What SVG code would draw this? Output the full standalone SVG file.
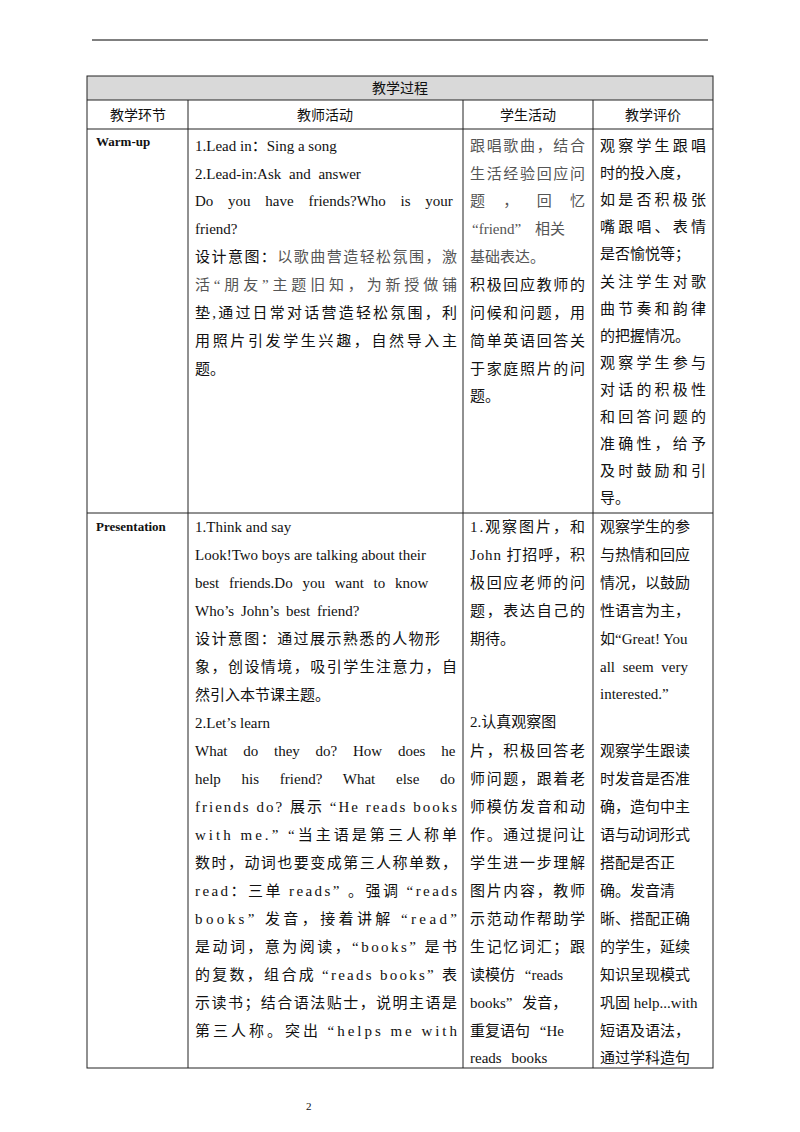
<svg xmlns="http://www.w3.org/2000/svg" width="800" height="1132" viewBox="0 0 800 1132">
<style>
text{font-family:"Liberation Serif","Noto Sans CJK SC",serif;font-size:15px;fill:#111}
.h{text-anchor:middle;font-size:14px}
.b{font-weight:bold;font-size:13px}
.g{fill:#555}
.ln{stroke:#222;stroke-width:1;fill:none}
</style>
<rect width="800" height="1132" fill="#fff"/>
<line x1="92" y1="40" x2="708" y2="40" stroke="#000" stroke-width="1"/>
<g id="table">
<rect x="87" y="76" width="626" height="24" fill="#d9d9d9"/>
<g class="ln">
<rect x="87" y="76" width="626" height="992"/>
<line x1="87" y1="100" x2="713" y2="100"/>
<line x1="87" y1="129" x2="713" y2="129"/>
<line x1="87" y1="513" x2="713" y2="513"/>
<line x1="188" y1="100" x2="188" y2="1068"/>
<line x1="463" y1="100" x2="463" y2="1068"/>
<line x1="593" y1="100" x2="593" y2="1068"/>
</g>
<text class="h" x="400" y="93">教学过程</text>
<text class="h" x="138" y="120">教学环节</text>
<text class="h" x="325" y="120">教师活动</text>
<text class="h" x="528" y="120">学生活动</text>
<text class="h" x="653" y="120">教学评价</text>
</g>
<g id="warmup">
<text class="b" x="96" y="146">Warm-up</text>
<text x="195" y="151">1.Lead in：Sing a song</text>
<text x="195" y="179" word-spacing="4">2.Lead-in:Ask and answer</text>
<text x="195" y="206" word-spacing="11">Do you have friends?Who is your</text>
<text x="195" y="234">friend?</text>
<text x="195" y="262" textLength="262" lengthAdjust="spacing"><tspan>设计意图：</tspan><tspan class="g">以歌曲营造轻松氛围，激</tspan></text>
<text class="g" x="195" y="290" textLength="262" lengthAdjust="spacing">活“朋友”主题旧知，为新授做铺</text>
<text x="195" y="318" textLength="262" lengthAdjust="spacing">垫,通过日常对话营造轻松氛围，利</text>
<text x="195" y="346" textLength="262" lengthAdjust="spacing">用照片引发学生兴趣，自然导入主</text>
<text x="195" y="374">题。</text>
<text class="g" x="470" y="151" textLength="115" lengthAdjust="spacing">跟唱歌曲，结合</text>
<text class="g" x="470" y="179" textLength="115" lengthAdjust="spacing">生活经验回应问</text>
<text class="g" x="470" y="206" textLength="115" lengthAdjust="spacing">题 ， 回 忆</text>
<text class="g" x="472" y="234" word-spacing="10">“friend” 相关</text>
<text class="g" x="470" y="262">基础表达。</text>
<text x="470" y="290" textLength="115" lengthAdjust="spacing">积极回应教师的</text>
<text x="470" y="318" textLength="115" lengthAdjust="spacing">问候和问题，用</text>
<text x="470" y="346" textLength="115" lengthAdjust="spacing">简单英语回答关</text>
<text x="470" y="374" textLength="115" lengthAdjust="spacing">于家庭照片的问</text>
<text x="470" y="401">题。</text>
<text x="600" y="151" textLength="106" lengthAdjust="spacing">观察学生跟唱</text>
<text x="600" y="178">时的投入度，</text>
<text x="600" y="205" textLength="106" lengthAdjust="spacing">如是否积极张</text>
<text x="600" y="232" textLength="106" lengthAdjust="spacing">嘴跟唱、表情</text>
<text x="600" y="259">是否愉悦等；</text>
<text x="600" y="287" textLength="106" lengthAdjust="spacing">关注学生对歌</text>
<text x="600" y="314" textLength="106" lengthAdjust="spacing">曲节奏和韵律</text>
<text x="600" y="341">的把握情况。</text>
<text x="600" y="368" textLength="106" lengthAdjust="spacing">观察学生参与</text>
<text x="600" y="395" textLength="106" lengthAdjust="spacing">对话的积极性</text>
<text x="600" y="422" textLength="106" lengthAdjust="spacing">和回答问题的</text>
<text x="600" y="449" textLength="106" lengthAdjust="spacing">准确性，给予</text>
<text x="600" y="476" textLength="106" lengthAdjust="spacing">及时鼓励和引</text>
<text x="600" y="503">导。</text>
</g>
<g id="presentation">
<text class="b" x="96" y="531">Presentation</text>
<text x="195" y="532">1.Think and say</text>
<text x="195" y="560">Look!Two boys are talking about their</text>
<text x="195" y="588" word-spacing="6">best friends.Do you want to know</text>
<text x="195" y="616" word-spacing="3">Who’s John’s best friend?</text>
<text x="195" y="644" textLength="245" lengthAdjust="spacing">设计意图：通过展示熟悉的人物形</text>
<text x="195" y="672" textLength="262" lengthAdjust="spacing">象，创设情境，吸引学生注意力，自</text>
<text x="195" y="700">然引入本节课主题。</text>
<text x="195" y="728">2.Let’s learn</text>
<text x="195" y="756" word-spacing="12">What do they do? How does he</text>
<text x="195" y="784" word-spacing="17">help his friend? What else do</text>
<text x="195" y="812" textLength="262" lengthAdjust="spacing">friends do? 展示 “He reads books</text>
<text x="195" y="840" textLength="262" lengthAdjust="spacing">with me.” “当主语是第三人称单</text>
<text x="195" y="868" textLength="262" lengthAdjust="spacing">数时，动词也要变成第三人称单数，</text>
<text x="195" y="896" textLength="262" lengthAdjust="spacing">read：三单 reads” 。强调 “reads</text>
<text x="195" y="924" textLength="262" lengthAdjust="spacing">books” 发音，接着讲解 “read”</text>
<text x="195" y="952" textLength="262" lengthAdjust="spacing">是动词，意为阅读，“books” 是书</text>
<text x="195" y="980" textLength="262" lengthAdjust="spacing">的复数，组合成 “reads books” 表</text>
<text x="195" y="1008" textLength="262" lengthAdjust="spacing">示读书；结合语法贴士，说明主语是</text>
<text x="195" y="1036" textLength="262" lengthAdjust="spacing">第三人称。突出 “helps me with</text>
<text x="470" y="532" textLength="115" lengthAdjust="spacing">1.观察图片，和</text>
<text x="470" y="560" textLength="115" lengthAdjust="spacing">John 打招呼，积</text>
<text x="470" y="588" textLength="115" lengthAdjust="spacing">极回应老师的问</text>
<text x="470" y="616" textLength="115" lengthAdjust="spacing">题，表达自己的</text>
<text x="470" y="644">期待。</text>
<text x="470" y="727">2.认真观察图</text>
<text x="470" y="756" textLength="115" lengthAdjust="spacing">片，积极回答老</text>
<text x="470" y="784" textLength="115" lengthAdjust="spacing">师问题，跟着老</text>
<text x="470" y="812" textLength="115" lengthAdjust="spacing">师模仿发音和动</text>
<text x="470" y="840" textLength="115" lengthAdjust="spacing">作。通过提问让</text>
<text x="470" y="868" textLength="115" lengthAdjust="spacing">学生进一步理解</text>
<text x="470" y="896" textLength="115" lengthAdjust="spacing">图片内容，教师</text>
<text x="470" y="924" textLength="115" lengthAdjust="spacing">示范动作帮助学</text>
<text x="470" y="952" textLength="115" lengthAdjust="spacing">生记忆词汇；跟</text>
<text x="470" y="980" word-spacing="6">读模仿 “reads</text>
<text x="470" y="1008" word-spacing="6">books” 发音，</text>
<text x="470" y="1036" word-spacing="6">重复语句 “He</text>
<text x="470" y="1063" word-spacing="6">reads books</text>
<text x="600" y="532">观察学生的参</text>
<text x="600" y="560">与热情和回应</text>
<text x="600" y="588">情况，以鼓励</text>
<text x="600" y="616">性语言为主，</text>
<text x="600" y="644">如“Great! You</text>
<text x="600" y="672" word-spacing="4">all seem very</text>
<text x="600" y="699">interested.”</text>
<text x="600" y="756">观察学生跟读</text>
<text x="600" y="784">时发音是否准</text>
<text x="600" y="812">确，造句中主</text>
<text x="600" y="840">语与动词形式</text>
<text x="600" y="868">搭配是否正</text>
<text x="600" y="896">确。发音清</text>
<text x="600" y="924">晰、搭配正确</text>
<text x="600" y="952">的学生，延续</text>
<text x="600" y="980">知识呈现模式</text>
<text x="600" y="1008">巩固 help...with</text>
<text x="600" y="1036">短语及语法，</text>
<text x="600" y="1063">通过学科造句</text>
</g>
<text x="306" y="1110" style="font-size:11px">2</text>
</svg>
